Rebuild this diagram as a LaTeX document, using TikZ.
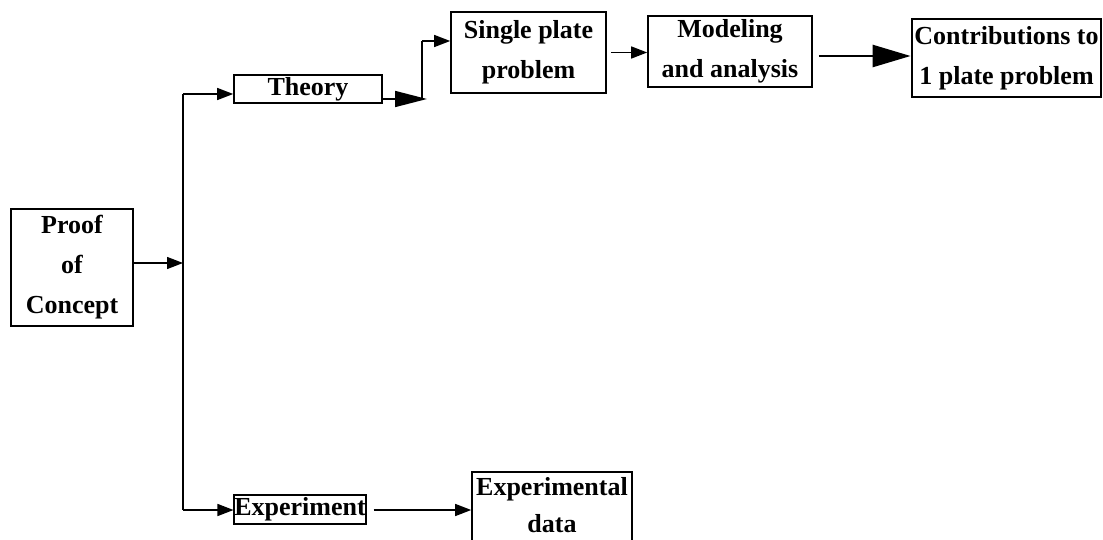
\documentclass[tikz,border=0pt]{standalone}
\usepackage{fontspec}
\setmainfont{Liberation Serif}
\usetikzlibrary{arrows.meta}
\begin{document}
\begin{tikzpicture}[x=1pt,y=-1pt,
  box/.style={draw, line width=1.6pt, inner sep=0pt, align=center,
    font=\fontsize{26}{40}\selectfont\bfseries},
  link/.style={line width=1.4pt},
  arr/.style={line width=1.4pt, -{Triangle[length=16pt,width=12pt]}},
  bigarr/.style={line width=1.6pt, -{Triangle[length=32pt,width=16pt]}},
  hugearr/.style={line width=2.6pt, -{Triangle[length=38pt,width=22pt]}}]
\useasboundingbox (0,0) rectangle (1103,540);
\clip (0,0) rectangle (1103,540);
\fill[white] (0,0) rectangle (1103,540);

\node[box, minimum width=122pt, minimum height=117pt] (proof) at (72,267.5) {Proof\\of\\Concept};
\node[box, minimum width=148pt, minimum height=28pt] (theory) at (308,89) {Theory};
\node[box, minimum width=155pt, minimum height=81pt] (single) at (528.5,52.5) {Single plate\\problem};
\node[box, minimum width=164pt, minimum height=71pt] (model) at (730,51.5) {Modeling\\and analysis};
\node[box, line width=2.8pt, minimum width=189pt, minimum height=78pt] (contrib) at (1006.5,58) {Contributions to\\1 plate problem};
\node[box, minimum width=130pt, minimum height=29pt] (exper) at (300,509.5) {Experiment};
\node[box, font=\fontsize{26}{37}\selectfont\bfseries, text depth=10pt, minimum width=160pt, minimum height=76pt] (data) at (552,510) {Experimental\\data};

\coordinate (ttop) at (183,94);
\coordinate (tmid) at (183,263);
\coordinate (tbot) at (183,510);
\coordinate (j1) at (422,99);
\coordinate (tipA) at (427,99);
\coordinate (j2) at (422,41);

\draw[link] (ttop) -- (tbot);
\draw[arr] (proof.east |- tmid) -- (tmid);
\draw[arr] (ttop) -- (theory.west |- ttop);
\draw[arr] (tbot) -- (exper.west |- tbot);
\draw[bigarr] (theory.east |- tipA) -- (tipA);
\draw[link] (j1) -- (j2);
\draw[arr] (j2) -- (single.west |- j2);
\draw[arr] ([xshift=4pt]single.east) -- (model.west |- single.east);
\draw[hugearr] ([xshift=6pt]model.east |- 0,56) -- (contrib.west |- 0,56);
\draw[arr] ([xshift=7pt]exper.east |- tbot) -- (data.west |- tbot);
\end{tikzpicture}
\end{document}
